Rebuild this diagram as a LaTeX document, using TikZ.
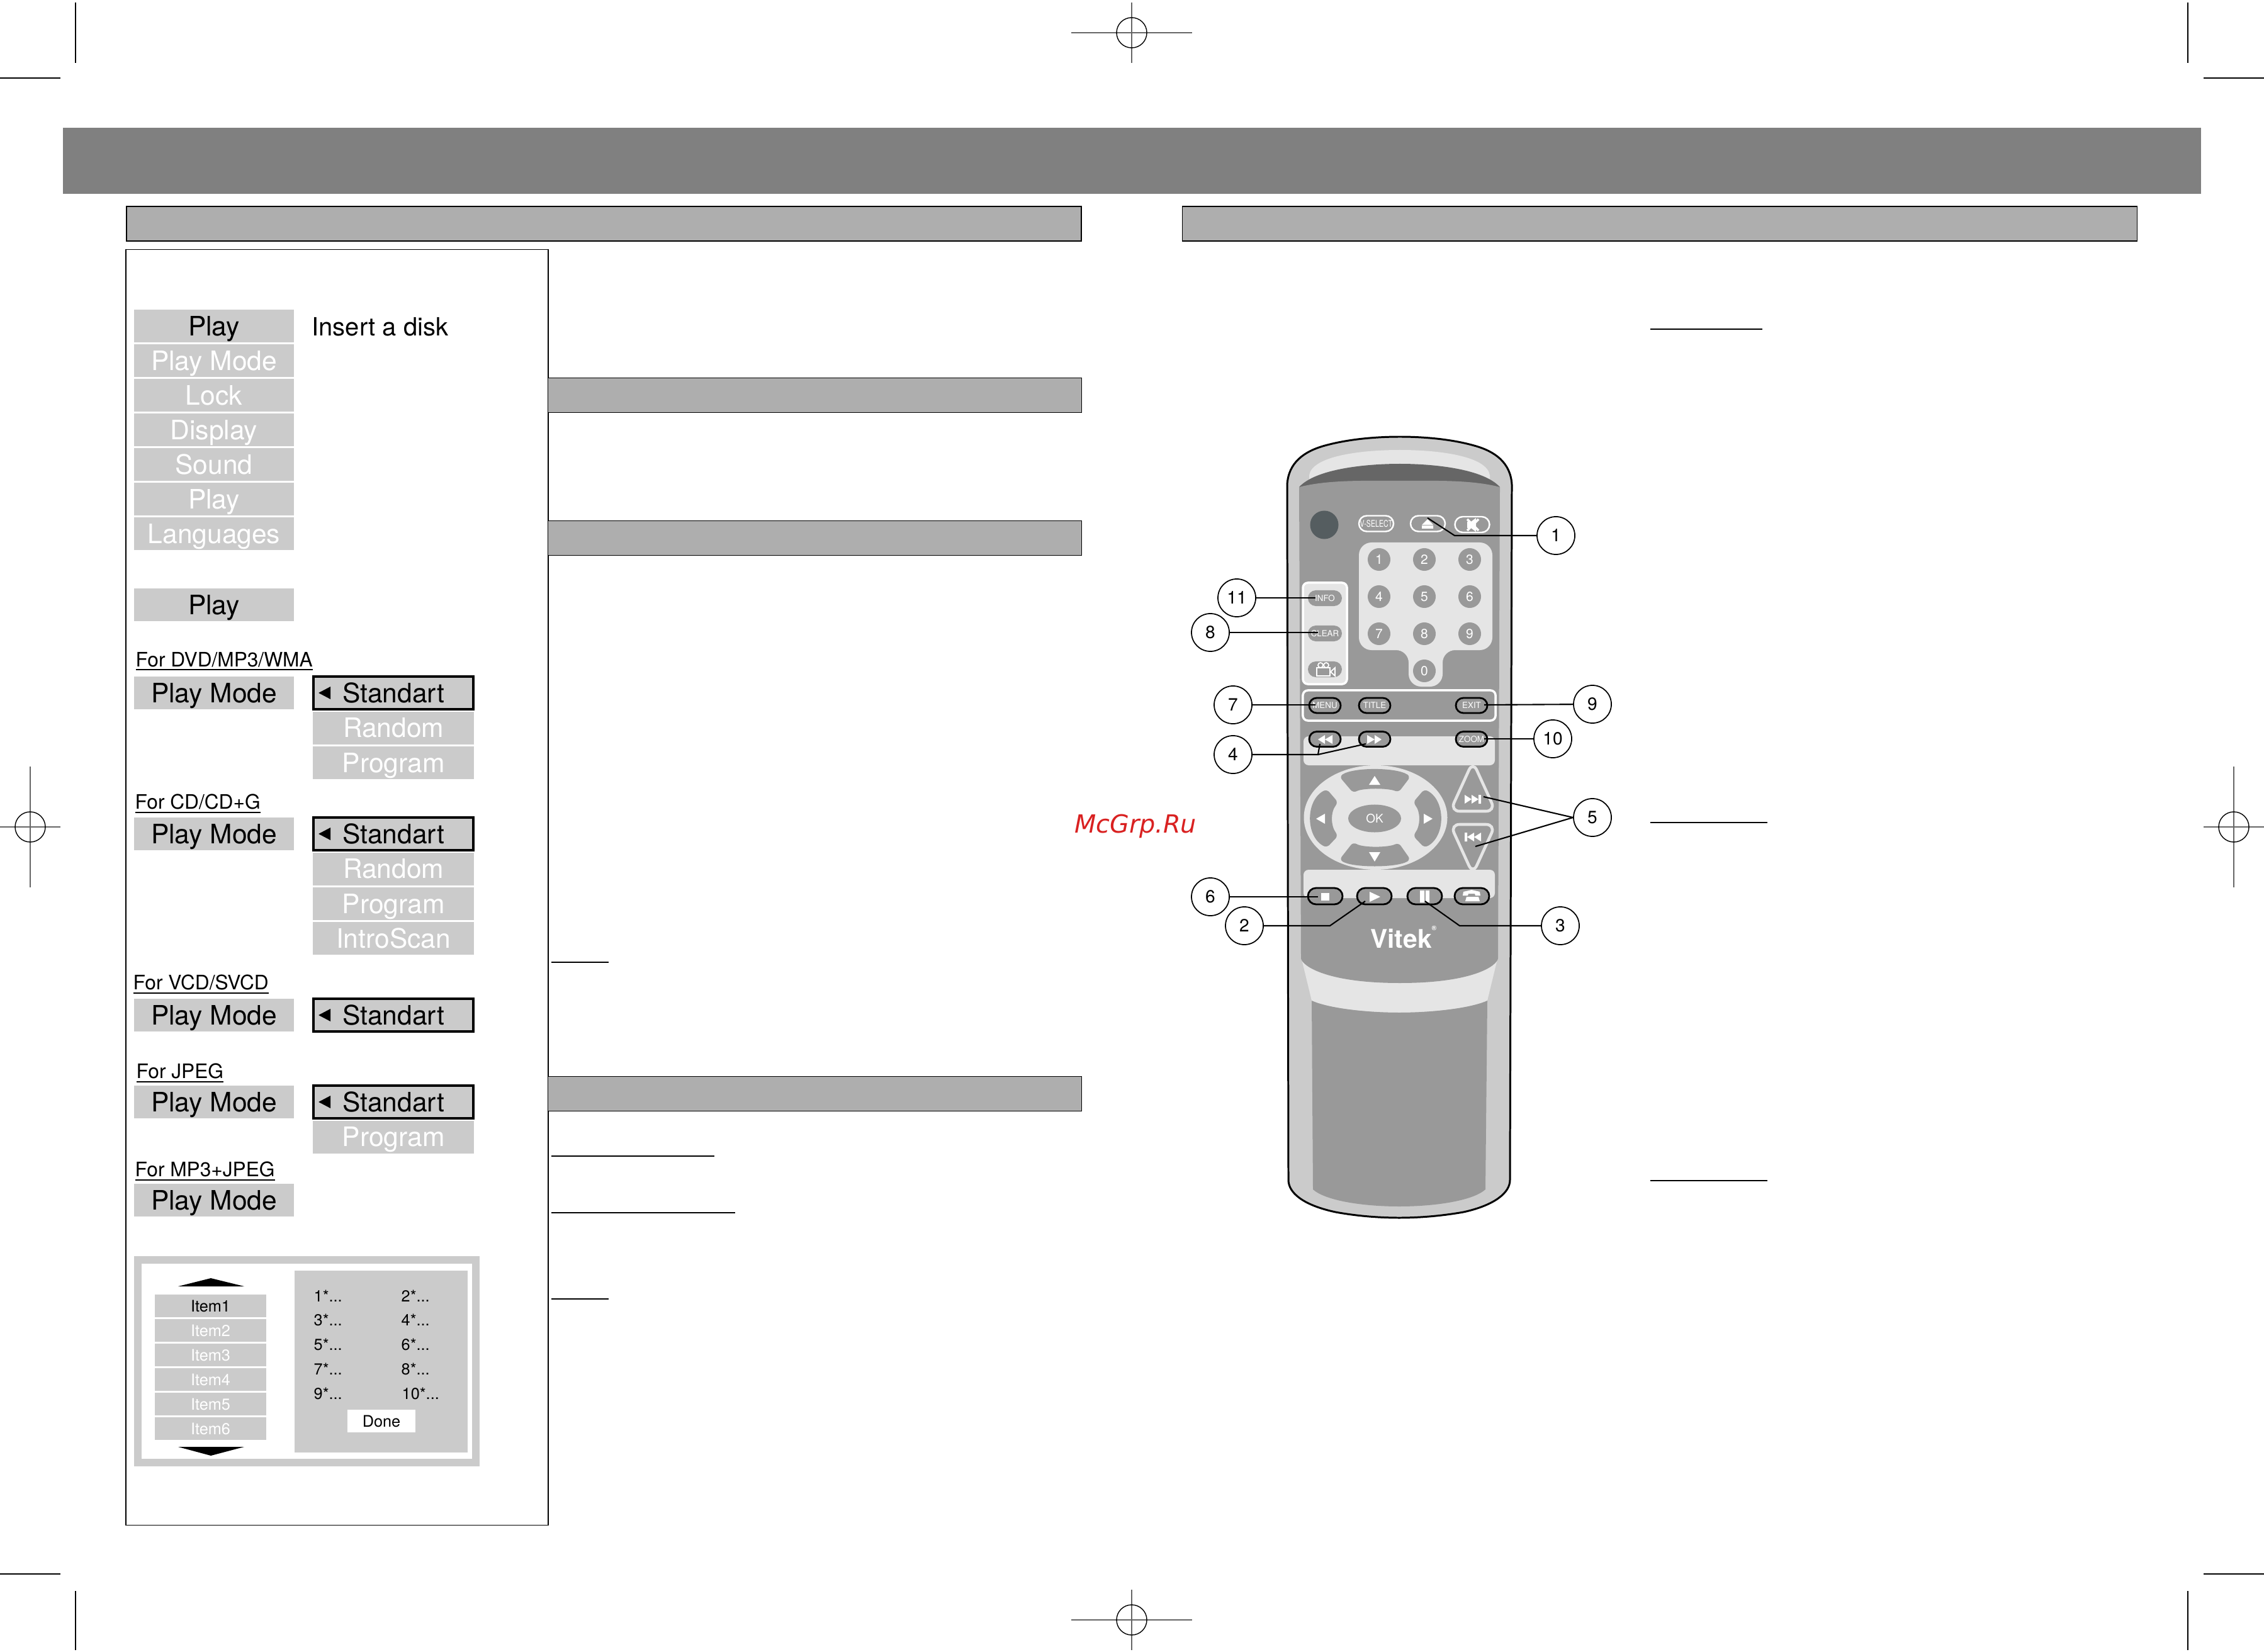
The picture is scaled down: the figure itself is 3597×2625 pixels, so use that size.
\documentclass[tikz,border=0pt]{standalone}
\usepackage{fontspec}
\setmainfont{TeX Gyre Heros}
\newfontfamily\markfont{DejaVu Sans}
\usetikzlibrary{positioning,shapes.misc,shapes.geometric}
\definecolor{headfill}{HTML}{808080}
\definecolor{barfill}{HTML}{AEAEAE}
\definecolor{menufill}{HTML}{CBCBCB}
\definecolor{panelfill}{HTML}{999999}
\definecolor{keylight}{HTML}{E5E5E5}
\definecolor{bandfill}{HTML}{666666}
\definecolor{irfill}{HTML}{555D60}
\definecolor{markred}{HTML}{D92121}
\newcommand{\fs}[1]{\fontsize{#1}{#1}\selectfont}
\newcommand{\stdtip}[1]{\fill ([xshift=.1cm]#1.west) -- ++(19,-10) -- ++(0,20) -- cycle;}
\newcommand{\forline}[1]{\vtop{\hbox{#1}\kern.9pt\hrule height .6pt}}

\begin{document}
\begin{tikzpicture}[x=.01cm, y=-.01cm,
    bar/.style={draw, line width=.4pt, fill=barfill, inner sep=0pt, minimum height=.55cm},
    menubox/.style={fill=menufill, inner sep=0pt, outer sep=0pt, minimum width=2.54cm, minimum height=.52cm, text height=.3cm, text depth=0pt, font=\fs{12.1}},
    dimbox/.style={menubox, text=white},
    optbox/.style={dimbox, minimum width=2.56cm},
    stdbox/.style={menubox, draw, line width=1.1pt, outer sep=.55pt},
    forlabel/.style={anchor=west, inner sep=0pt, font=\fs{9}},
    itembox/.style={fill=menufill, inner sep=0pt, outer sep=0pt, minimum width=1.77cm, minimum height=.36cm, text height=.18cm, text depth=0pt, text=white, font=\fs{7.2}},
    pickcell/.style={anchor=west, inner sep=0pt, text height=.18cm, text depth=0pt, font=\fs{7.2}},
    digitkey/.style={circle, fill=panelfill, inner sep=0pt, minimum size=.36cm, text=white, font=\fs{6}},
    softkey/.style={rounded rectangle, fill=panelfill, inner sep=0pt, minimum width=.54cm, minimum height=.25cm, text=white, font=\fs{3.8}},
    whitekey/.style={softkey, draw=white, line width=.7pt, minimum width=.55cm},
    blackkey/.style={softkey, draw, line width=.8pt, minimum width=.5cm, minimum height=.24cm},
    widekey/.style={blackkey, minimum width=.55cm, minimum height=.26cm},
    callout/.style={draw, circle, fill=white, line width=.5pt, inner sep=0pt, minimum size=.6cm, font=\fs{8}},
    lead/.style={line width=.6pt},
    crop/.style={line width=.4pt},
    thinrule/.style={line width=.3pt},
    reg/.style={line width=.4pt, draw=black!60}]
    \useasboundingbox (0,0) rectangle (3597,2625);

    \draw[crop] (120,4) -- (120,100) (0,124) -- (96,124);
    \draw[crop] (3476,4) -- (3476,100) (3501,124) -- (3597,124);
    \draw[crop] (120,2528) -- (120,2622) (0,2501) -- (96,2501);
    \draw[crop] (3476,2528) -- (3476,2622) (3501,2501) -- (3597,2501);
    \draw[reg] (1702,52) -- (1894,52) (1798,4) -- (1798,100);
    \draw[crop] (1798,52) circle (.24cm);
    \draw[reg] (1702,2574) -- (1894,2574) (1798,2526) -- (1798,2622);
    \draw[crop] (1798,2574) circle (.24cm);
    \draw[reg] (0,1314) -- (96,1314) (48,1218) -- (48,1410);
    \draw[crop] (48,1314) circle (.24cm);
    \draw[reg] (3501,1314) -- (3597,1314) (3549,1218) -- (3549,1410);
    \draw[crop] (3549,1314) circle (.24cm);

    \node[fill=headfill, inner sep=0pt, minimum width=33.95cm, minimum height=1.05cm] (header) at (1798.5,255.5) {};
    \node[bar, minimum width=15.16cm] (leftbar) at (959.5,355.5) {};
    \node[bar, minimum width=15.16cm] (rightbar) at (2637,355.5) {};
    \node[draw, line width=.5pt, inner sep=0pt, minimum width=6.71cm, minimum height=20.26cm] (screen) at (535.5,1410) {};
    \node[bar, minimum width=8.47cm] (barone) at (1294.5,628) {};
    \node[bar, minimum width=8.47cm] (bartwo) at (1294.5,855) {};
    \node[bar, minimum width=8.47cm] (barthree) at (1294.5,1738) {};

    \draw[crop] (876,1529) -- (967,1529) (876,2064) -- (967,2064) (2622,1307) -- (2808,1307);
    \draw[thinrule] (876,1837) -- (1135,1837) (876,1927) -- (1168,1927);
    \draw[thinrule] (2622,523) -- (2800,523) (2622,1876) -- (2808,1876);

    \node[menubox] (play) at (340,518) {Play};
    \node[dimbox, below=.03cm of play] (playmode) {Play Mode};
    \node[dimbox, below=.03cm of playmode] (lock) {Lock};
    \node[dimbox, below=.03cm of lock] (display) {Display};
    \node[dimbox, below=.03cm of display] (sound) {Sound};
    \node[dimbox, below=.03cm of sound] (playagain) {Play};
    \node[dimbox, below=.03cm of playagain] (languages) {Languages};
    \node[anchor=west, inner sep=0pt, text height=.3cm, text depth=0pt, font=\fs{11.35}] (insert) at (495,518) {Insert a disk};
    \node[menubox] (playsel) at (340,961) {Play};

    \node[forlabel] (fordvd) at (215,1051) {\forline{For DVD/MP3/WMA}};
    \node[menubox] (dvdmode) at (340,1101) {Play Mode};
    \node[stdbox, right=.29cm of dvdmode] (dvdstd) {Standart};
    \node[optbox, below=.02cm of dvdstd] (dvdrandom) {Random};
    \node[optbox, below=.03cm of dvdrandom] (dvdprogram) {Program};
    \stdtip{dvdstd}

    \node[forlabel] (forcd) at (214,1277) {\forline{For CD/CD+G}};
    \node[menubox] (cdmode) at (340,1325) {Play Mode};
    \node[stdbox, right=.29cm of cdmode] (cdstd) {Standart};
    \node[optbox, below=.02cm of cdstd] (cdrandom) {Random};
    \node[optbox, below=.03cm of cdrandom] (cdprogram) {Program};
    \node[optbox, below=.03cm of cdprogram] (cdintro) {IntroScan};
    \stdtip{cdstd}

    \node[forlabel] (forvcd) at (211,1564) {\forline{For VCD/SVCD}};
    \node[menubox] (vcdmode) at (340,1613) {Play Mode};
    \node[stdbox, right=.29cm of vcdmode] (vcdstd) {Standart};
    \stdtip{vcdstd}

    \node[forlabel] (forjpeg) at (216,1705) {\forline{For JPEG}};
    \node[menubox] (jpegmode) at (340,1751) {Play Mode};
    \node[stdbox, right=.29cm of jpegmode] (jpegstd) {Standart};
    \node[optbox, below=.02cm of jpegstd] (jpegprogram) {Program};
    \stdtip{jpegstd}

    \node[forlabel] (formix) at (214,1861) {\forline{For MP3+JPEG}};
    \node[menubox] (mixmode) at (340,1907) {Play Mode};

    \node[draw=menufill, line width=.12cm, inner sep=0pt, minimum width=5.37cm, minimum height=3.22cm] (pickframe) at (487.5,2163) {};
    \node[fill=menufill, inner sep=0pt, minimum width=2.75cm, minimum height=2.89cm] (pickpane) at (605.5,2163.5) {};
    \node[itembox, text=black] (itemone) at (334.5,2075) {Item1};
    \node[itembox, below=.03cm of itemone] (itemtwo) {Item2};
    \node[itembox, below=.03cm of itemtwo] (itemthree) {Item3};
    \node[itembox, below=.03cm of itemthree] (itemfour) {Item4};
    \node[itembox, below=.03cm of itemfour] (itemfive) {Item5};
    \node[itembox, below=.03cm of itemfive] (itemsix) {Item6};
    \fill (283,2044) -- (335,2031) -- (388,2044) -- cycle;
    \fill (283,2299) -- (335,2313) -- (388,2299) -- cycle;
    \node[pickcell] (cella) at (498,2059) {1*...};
    \node[pickcell] (cellb) at (637,2059) {2*...};
    \node[pickcell] (cellc) at (498,2097) {3*...};
    \node[pickcell] (celld) at (637,2097) {4*...};
    \node[pickcell] (celle) at (498,2136) {5*...};
    \node[pickcell] (cellf) at (637,2136) {6*...};
    \node[pickcell] (cellg) at (498,2175) {7*...};
    \node[pickcell] (cellh) at (637,2175) {8*...};
    \node[pickcell] (celli) at (498,2214) {9*...};
    \node[pickcell] (cellj) at (638,2214) {10*...};
    \node[fill=white, inner sep=0pt, minimum width=1.08cm, minimum height=.36cm, text height=.18cm, text depth=0pt, font=\fs{7.2}] (done) at (606,2258) {Done};

    \node[text=markred, inner sep=0pt, font=\markfont\itshape\fs{11.3}] (watermark) at (1804,1313) {McGrp.Ru};

    \draw[fill=menufill, line width=.85pt] (2045,770) .. controls (2047,735) and (2072,717) .. (2105,708) .. controls (2145,697) and (2190,694) .. (2224,694) .. controls (2258,694) and (2303,697) .. (2342,708) .. controls (2375,717) and (2400,735) .. (2402,770) -- (2399,1875) .. controls (2399,1895) and (2375,1915) .. (2325,1926) .. controls (2285,1933) and (2250,1935) .. (2223,1935) .. controls (2196,1935) and (2160,1933) .. (2122,1926) .. controls (2070,1915) and (2047,1895) .. (2047,1875) -- cycle;
    \fill[keylight] (2080,772) -- (2080,755) .. controls (2085,725) and (2160,715) .. (2224,715) .. controls (2288,715) and (2362,725) .. (2367,755) -- (2367,772) -- cycle;
    \fill[bandfill] (2064,774) .. controls (2090,745) and (2170,737) .. (2224,737) .. controls (2278,737) and (2357,745) .. (2383,774) -- cycle;
    \fill[keylight] (2067,1520) -- (2084,1590) .. controls (2110,1602) and (2170,1609) .. (2223,1609) .. controls (2276,1609) and (2337,1602) .. (2363,1590) -- (2380,1520) -- cycle;
    \fill[panelfill] (2084,1590) .. controls (2110,1602) and (2170,1609) .. (2223,1609) .. controls (2276,1609) and (2337,1602) .. (2363,1590) -- (2360,1890) .. controls (2340,1908) and (2280,1917) .. (2223,1917) .. controls (2166,1917) and (2106,1908) .. (2086,1890) -- cycle;
    \fill[panelfill] (2064,774) .. controls (2110,762) and (2170,764) .. (2224,764) .. controls (2278,764) and (2337,762) .. (2383,774) -- (2380,1523) .. controls (2378,1535) and (2340,1562) .. (2224,1562) .. controls (2108,1562) and (2069,1535) .. (2067,1523) -- cycle;

    \node[circle, fill=irfill, inner sep=0pt, minimum size=.45cm] (irport) at (2104,834) {};
    \node[whitekey, font=\fs{4.2}] (vselect) at (2186.5,832) {\scalebox{.72}[1]{V-SELECT}};
    \node[whitekey] (eject) at (2268.5,832) {};
    \node[whitekey] (mute) at (2339,833.5) {};
    \fill[white] (2268,825) -- (2259,834) -- (2277,834) -- cycle (2259,835) rectangle (2277,840);
    \fill[white] (2331,829) -- (2337,829) -- (2345,823) -- (2345,845) -- (2337,839) -- (2331,839) -- cycle;
    \draw[white, line width=1pt] (2331,825) -- (2349,843) (2349,825) -- (2331,843);

    \fill[keylight, rounded corners=.2cm] (2159,862) -- (2371,862) -- (2371,1033) -- (2292,1033) -- (2292,1091) -- (2238,1091) -- (2238,1033) -- (2159,1033) -- cycle;
    \node[digitkey] (keyone) at (2191,889) {1};
    \node[digitkey] (keytwo) at (2263,889) {2};
    \node[digitkey] (keythree) at (2335,889) {3};
    \node[digitkey] (keyfour) at (2191,948) {4};
    \node[digitkey] (keyfive) at (2263,948) {5};
    \node[digitkey] (keysix) at (2335,948) {6};
    \node[digitkey] (keyseven) at (2191,1007) {7};
    \node[digitkey] (keyeight) at (2263,1007) {8};
    \node[digitkey] (keynine) at (2335,1007) {9};
    \node[digitkey] (keyzero) at (2263,1066) {0};

    \node[draw=white, fill=keylight, line width=1pt, rounded corners=.08cm, inner sep=0pt, minimum width=.7cm, minimum height=1.61cm] (sidegroup) at (2105,1006.5) {};
    \node[softkey] (info) at (2105,950.5) {INFO};
    \node[softkey] (clear) at (2105,1006.5) {CLEAR};
    \node[softkey] (camera) at (2105,1063.5) {};
    \draw[white, line width=.5pt] (2092,1061) rectangle (2113,1074) (2098,1057) circle (.04cm) (2107,1057) circle (.04cm) (2121,1061) -- (2114,1067.5) -- (2121,1074) -- cycle;

    \fill[keylight, rounded corners=.08cm] (2071,1170) rectangle (2375,1216);
    \fill[keylight, rounded corners=.08cm] (2071,1382) rectangle (2375,1427);
    \node[draw=white, line width=1pt, rounded corners=.08cm, inner sep=0pt, minimum width=3.06cm, minimum height=.48cm] (menugroup) at (2223,1121) {};
    \node[blackkey] (menu) at (2105,1121) {MENU};
    \node[blackkey] (title) at (2184,1121) {TITLE};
    \node[blackkey] (exit) at (2338,1121) {EXIT};
    \node[blackkey] (rewind) at (2105,1174.5) {};
    \node[blackkey] (forward) at (2184,1174.5) {};
    \node[blackkey] (zoom) at (2338,1174.5) {ZOOM};
    \fill[white] (2094,1175) -- (2105,1168) -- (2105,1182) -- cycle (2105,1175) -- (2117,1168) -- (2117,1182) -- cycle;
    \fill[white] (2172,1168) -- (2184,1175) -- (2172,1182) -- cycle (2184,1168) -- (2195,1175) -- (2184,1182) -- cycle;

    \fill[keylight] (2185.5,1299) ellipse [x radius=114, y radius=83];
    \fill[panelfill, rounded corners=.06cm] (2128,1234) .. controls (2150,1219) and (2218,1219) .. (2241,1234) -- (2222,1259) .. controls (2205,1252) and (2165,1252) .. (2150,1260) -- cycle;
    \fill[panelfill, rounded corners=.06cm] (2128,1366) .. controls (2150,1379) and (2218,1379) .. (2241,1366) -- (2222,1339) .. controls (2205,1347) and (2165,1347) .. (2150,1338) -- cycle;
    \fill[panelfill, rounded corners=.06cm] (2108,1254) .. controls (2074,1272) and (2074,1329) .. (2108,1347) -- (2126,1328) .. controls (2114,1312) and (2114,1290) .. (2126,1275) -- cycle;
    \fill[panelfill, rounded corners=.06cm] (2263,1254) .. controls (2297,1272) and (2297,1329) .. (2263,1347) -- (2245,1328) .. controls (2257,1312) and (2257,1290) .. (2245,1275) -- cycle;
    \node[ellipse, fill=panelfill, inner sep=0pt, minimum width=.84cm, minimum height=.44cm, text=white, font=\fs{5.4}] (okkey) at (2184,1300.5) {OK};
    \fill[white] (2184,1233) -- (2175,1247) -- (2193,1247) -- cycle;
    \fill[white] (2184,1369) -- (2175,1354) -- (2193,1354) -- cycle;
    \fill[white] (2091,1301) -- (2105,1293) -- (2105,1309) -- cycle;
    \fill[white] (2276,1301) -- (2262,1293) -- (2262,1309) -- cycle;

    \draw[keylight, fill=panelfill, line width=1.3pt, rounded corners=.15cm] (2340,1210) -- (2376,1289) -- (2304,1289) -- cycle;
    \draw[keylight, fill=panelfill, line width=1.3pt, rounded corners=.15cm] (2340,1389) -- (2376,1310) -- (2304,1310) -- cycle;
    \fill[white] (2327,1263) -- (2338,1270) -- (2327,1277) -- cycle (2338,1263) -- (2349,1270) -- (2338,1277) -- cycle (2349,1263) rectangle (2353,1277);
    \fill[white] (2327,1323) rectangle (2331,1337) (2342,1323) -- (2331,1330) -- (2342,1337) -- cycle (2353,1323) -- (2342,1330) -- (2353,1337) -- cycle;

    \node[widekey] (stop) at (2105.5,1424) {};
    \node[widekey] (playkey) at (2183.5,1424) {};
    \node[widekey] (pause) at (2263.5,1424) {};
    \node[widekey] (phone) at (2338.5,1424) {};
    \fill[white] (2099,1419) rectangle (2112,1431);
    \fill[white] (2176,1417) -- (2193,1425) -- (2176,1433) -- cycle;
    \fill[white] (2256,1415) rectangle (2263,1434) (2265,1415) rectangle (2271,1434);
    \fill[white] (2324,1423) -- (2325,1417) -- (2338,1414) -- (2351,1417) -- (2352,1423) -- (2344,1423) -- (2343,1420) -- (2333,1420) -- (2332,1423) -- cycle (2328,1432) -- (2330,1425) -- (2349,1425) -- (2351,1432) -- cycle;

    \node[text=white, inner sep=0pt, font=\bfseries\fs{11.6}] (logo) at (2226,1489) {Vitek\rlap{\raisebox{.7em}{\fs{3}®}}};

    \node[callout] (calla) at (2472,851) {1};
    \node[callout] (callk) at (1965,950) {11};
    \node[callout] (callh) at (1923,1005) {8};
    \node[callout] (callg) at (1959,1120) {7};
    \node[callout] (calli) at (2530,1119) {9};
    \node[callout] (calld) at (1959,1199) {4};
    \node[callout] (callj) at (2467,1174) {10};
    \node[callout] (calle) at (2530,1299) {5};
    \node[callout] (callf) at (1923,1425) {6};
    \node[callout] (callb) at (1977,1471) {2};
    \node[callout] (callc) at (2479,1471) {3};

    \coordinate (ejectbend) at (2311,851);
    \coordinate (ejectend) at (2268,823);
    \coordinate (infoend) at (2090,950);
    \coordinate (clearend) at (2094,1005);
    \coordinate (menuend) at (2090,1120);
    \coordinate (exitend) at (2358,1120);
    \coordinate (zoomend) at (2358,1174);
    \coordinate (seekfork) at (2094,1199);
    \coordinate (rewindend) at (2097,1182);
    \coordinate (forwardend) at (2170,1182);
    \coordinate (nextend) at (2357,1266);
    \coordinate (prevend) at (2344,1345);
    \coordinate (stopend) at (2094,1425);
    \coordinate (playbend) at (2113,1471);
    \coordinate (playend) at (2169,1432);
    \coordinate (pausebend) at (2319,1471);
    \coordinate (pauseend) at (2264,1432);

    \draw[lead] (calla) -- (ejectbend) -- (ejectend);
    \draw[lead] (callk) -- (infoend);
    \draw[lead] (callh) -- (clearend);
    \draw[lead] (callg) -- (menuend);
    \draw[lead] (calli) -- (exitend);
    \draw[lead] (callj) -- (zoomend);
    \draw[lead] (calld) -- (seekfork) -- (rewindend);
    \draw[lead] (seekfork) -- (forwardend);
    \draw[lead] (calle.west) -- (nextend);
    \draw[lead] (calle.west) -- (prevend);
    \draw[lead] (callf) -- (stopend);
    \draw[lead] (callb) -- (playbend) -- (playend);
    \draw[lead] (callc) -- (pausebend) -- (pauseend);
\end{tikzpicture}
\end{document}
